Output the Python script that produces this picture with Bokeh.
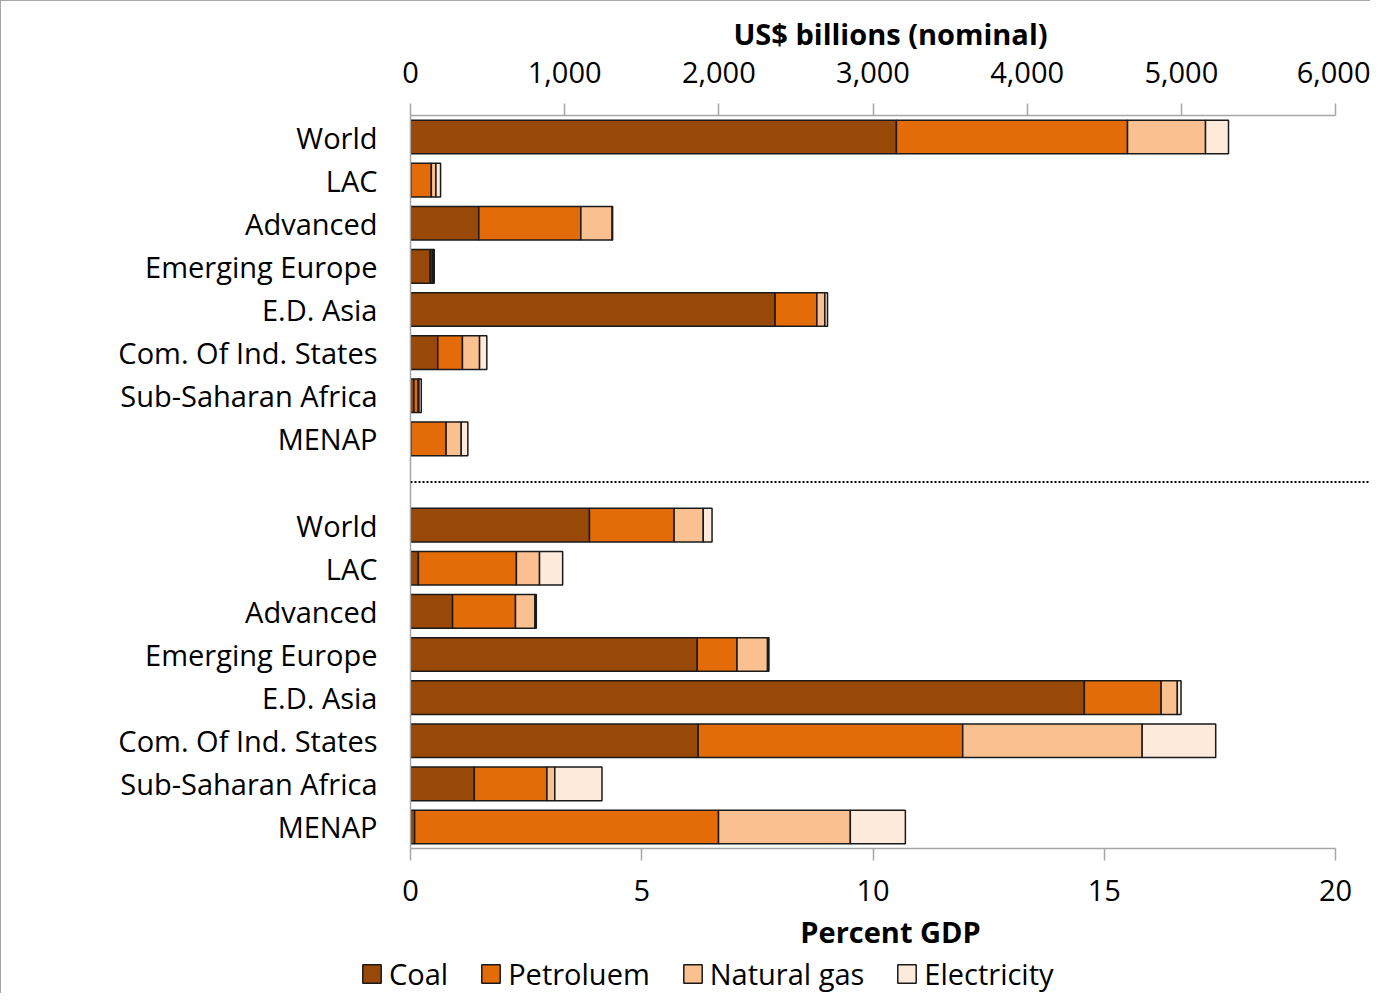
from bokeh.plotting import figure
from bokeh.layouts import column
from bokeh.models import (ColumnDataSource, Range1d, LinearAxis, FixedTicker,
                          NumeralTickFormatter, Span, Legend, LegendItem)
from bokeh.embed import file_html
from bokeh.resources import INLINE

regions = ["World", "LAC", "Advanced", "Emerging Europe", "E.D. Asia",
           "Com. Of Ind. States", "Sub-Saharan Africa", "MENAP"]
series = ["Coal", "Petroleum", "Natural gas", "Electricity"]
legend_labels = ["Coal", "Petroluem", "Natural gas", "Electricity"]
colors = ["#984807", "#E36C09", "#FAC090", "#FDEADA"]

# US$ billions (nominal)
usd_coal = [3152, 3, 443, 128, 2365, 177, 22, 3]
usd_petroleum = [1499, 132, 662, 13, 271, 160, 28, 228]
usd_natural_gas = [506, 30, 203, 8, 52, 111, 5, 98]
usd_electricity = [149, 30, 3, 5, 17, 47, 15, 43]

# Percent GDP
gdp_coal = [3.87, 0.17, 0.91, 6.20, 14.57, 6.22, 1.38, 0.09]
gdp_petroleum = [1.83, 2.12, 1.36, 0.86, 1.66, 5.72, 1.57, 6.57]
gdp_natural_gas = [0.63, 0.50, 0.42, 0.66, 0.35, 3.88, 0.17, 2.85]
gdp_electricity = [0.19, 0.50, 0.03, 0.03, 0.08, 1.59, 1.02, 1.19]

usd_ticks = [0, 1000, 2000, 3000, 4000, 5000, 6000]
gdp_ticks = [0, 5, 10, 15, 20]

FONT = "Open Sans"
FS = "29px"
n = len(regions)
y_top = [i + 0.5 for i in range(n)]
y_bot = [n + 1 + i + 0.5 for i in range(n)]

W = 1369
H_MAIN = 952
H_LEG = 40
frame_left = 409
frame_top = 114
frame_bottom = 848
frame_px = W - frame_left
px_per_pct = 925 / 20.0
x_end = frame_px / px_per_pct

p = figure(width=W, height=H_MAIN, output_backend="svg", toolbar_location=None,
           x_range=Range1d(0, x_end), y_range=Range1d(2 * n + 1, 0),
           x_axis_location=None, y_axis_location=None,
           min_border_left=frame_left, min_border_right=0,
           min_border_top=frame_top, min_border_bottom=H_MAIN - frame_bottom)
p.extra_x_ranges = {"usd": Range1d(0, x_end * 300)}
p.grid.visible = False
p.outline_line_color = None
p.background_fill_color = "white"

src_top = ColumnDataSource(dict(y=y_top, Coal=usd_coal, Petroleum=usd_petroleum,
                                **{"Natural gas": usd_natural_gas, "Electricity": usd_electricity}))
src_bot = ColumnDataSource(dict(y=y_bot, Coal=gdp_coal, Petroleum=gdp_petroleum,
                                **{"Natural gas": gdp_natural_gas, "Electricity": gdp_electricity}))

bar_kw = dict(height=0.78, line_color="#1a1a1a", line_width=1.5)
p.hbar_stack(series, y="y", color=colors, source=src_top, x_range_name="usd",
             **bar_kw)
p.hbar_stack(series, y="y", color=colors, source=src_bot, **bar_kw)

p.add_layout(Span(location=n + 0.5, dimension="width", line_color="black",
                  line_dash="2 2", line_width=2))

def style_axis(ax):
    ax.axis_line_color = "#a6a6a6"
    ax.axis_line_width = 1.5
    ax.major_tick_line_color = "#a6a6a6"
    ax.major_tick_line_width = 1.5
    ax.minor_tick_line_color = None
    ax.major_label_text_font = FONT
    ax.major_label_text_font_size = FS
    ax.major_label_text_color = "black"
    ax.axis_label_text_font = FONT
    ax.axis_label_text_font_size = FS
    ax.axis_label_text_font_style = "bold"
    ax.axis_label_text_color = "black"

top_ax = LinearAxis(x_range_name="usd", ticker=FixedTicker(ticks=usd_ticks),
                    formatter=NumeralTickFormatter(format="0,0"),
                    axis_label="US$ billions (nominal)", bounds=(0, 6000))
style_axis(top_ax)
top_ax.major_tick_in = 0
top_ax.major_tick_out = 12
top_ax.major_label_standoff = 21
top_ax.axis_label_standoff = 6
p.add_layout(top_ax, "above")

bot_ax = LinearAxis(ticker=FixedTicker(ticks=gdp_ticks), axis_label="Percent GDP",
                    bounds=(0, 20))
style_axis(bot_ax)
bot_ax.major_tick_in = 0
bot_ax.major_tick_out = 12
bot_ax.major_label_standoff = 19
bot_ax.axis_label_standoff = 8
p.add_layout(bot_ax, "below")

left_ax = LinearAxis(ticker=FixedTicker(ticks=y_top + y_bot),
                     major_label_overrides={t: r for t, r in zip(y_top + y_bot, regions + regions)},
                     bounds=(0, 2 * n + 1))
style_axis(left_ax)
left_ax.major_tick_line_color = None
left_ax.major_label_standoff = 27
p.add_layout(left_ax, "left")

# legend strip
lf = figure(width=W, height=H_LEG, output_backend="svg", toolbar_location=None,
            x_range=Range1d(0, 1), y_range=Range1d(0, 1),
            x_axis_location=None, y_axis_location=None,
            min_border_left=0, min_border_right=0, min_border_top=0, min_border_bottom=0)
lf.grid.visible = False
lf.outline_line_color = None
for fig in (p, lf):
    if "frame_align" in fig.properties():
        fig.frame_align = False

# legend proxies (placed outside the visible range, only their legend glyphs show)
leg_src = ColumnDataSource(dict(y=[-5], right=[0]))
leg_renderers = [lf.hbar(y="y", right="right", height=0.5, fill_color=c, source=leg_src,
                         line_color="#1a1a1a", line_width=1.5) for c in colors]
legend = Legend(items=[LegendItem(label=l, renderers=[r]) for l, r in zip(legend_labels, leg_renderers)],
                orientation="horizontal", location=(359, 0),
                label_text_font=FONT, label_text_font_size=FS, label_text_color="black",
                glyph_width=23, glyph_height=23, label_standoff=6, spacing=31,
                border_line_color=None, background_fill_alpha=0,
                padding=0, margin=0)
lf.add_layout(legend, "center")

layout = column(p, lf, spacing=0)
layout.styles = {"border-top": "1px solid #a6a6a6", "border-left": "1px solid #a6a6a6"}

open("out.html", "w").write(file_html(layout, INLINE))
